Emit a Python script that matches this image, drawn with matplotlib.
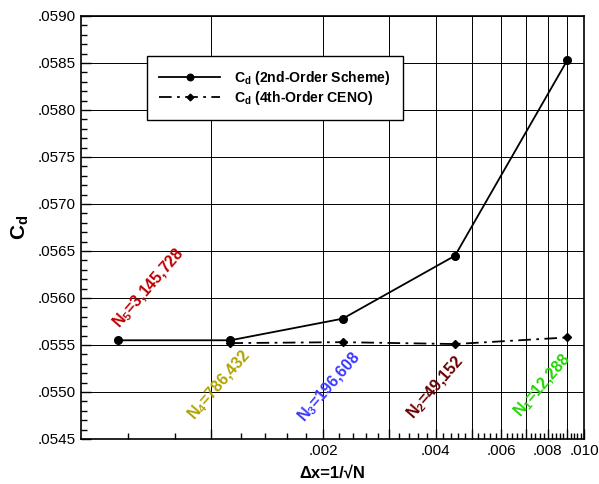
import matplotlib
matplotlib.use("Agg")
import matplotlib.pyplot as plt
from matplotlib.ticker import FixedLocator, FuncFormatter
import numpy as np

plt.rcParams['font.family'] = ['Liberation Sans', 'DejaVu Sans']
plt.rcParams['mathtext.fontset'] = 'custom'
plt.rcParams['mathtext.rm'] = 'Liberation Sans'
plt.rcParams['mathtext.it'] = 'Liberation Sans:italic'
plt.rcParams['mathtext.bf'] = 'Liberation Sans:bold'

# Data
grid_sizes = [3145728, 786432, 196608, 49152, 12288]
grid_names = ["N$_\\mathbf{5}$=3,145,728", "N$_\\mathbf{4}$=786,432", "N$_\\mathbf{3}$=196,608",
              "N$_\\mathbf{2}$=49,152", "N$_\\mathbf{1}$=12,288"]
label_colors = ["#c00000", "#b0a400", "#3a3aff", "#6a0000", "#22d800"]
label_x = [0.000682, 0.001057, 0.002085, 0.00399, 0.00777]
label_y = [0.05610, 0.055074, 0.055053, 0.055043, 0.055074]

cd_2nd = [0.05555, 0.05555, 0.05578, 0.05645, 0.05853]
cd_4th = [0.05552, 0.05553, 0.05551, 0.05558]   # N4..N1

dx = [1.0 / np.sqrt(n) for n in grid_sizes]

fig = plt.figure(figsize=(5.99, 4.84), dpi=100)
ax = fig.add_axes([0.135, 0.093, 0.84, 0.874])

ax.set_xscale('log')
ax.set_xlim(0.000448, 0.0100)
ax.set_ylim(0.0545, 0.0590)

ax.plot(dx, cd_2nd, color='black', lw=1.3, marker='o', ms=5.5,
        label='C$_\\mathbf{d}$ (2nd-Order Scheme)', zorder=5)
ax.plot(dx[1:], cd_4th, color='black', lw=1.3, ls=(0, (7, 3, 1.5, 3)), marker='D', ms=4,
        label='C$_\\mathbf{d}$ (4th-Order CENO)', zorder=4)

for name, c, x, y in zip(grid_names, label_colors, label_x, label_y):
    ax.text(x, y, name, color=c, fontsize=11.5, fontweight='bold', rotation=49,
            ha='center', va='center', rotation_mode='anchor', zorder=6)

# ticks
xmaj = [0.001 * k for k in range(1, 11)]
xmin = [0.0002 * k for k in range(3, 50) if k % 5 != 0]
ax.xaxis.set_major_locator(FixedLocator(xmaj))
ax.xaxis.set_minor_locator(FixedLocator(xmin))

def xfmt(v, pos):
    k = int(round(v / 0.001))
    if k % 2 == 0:
        return ("%.3f" % v)[1:]
    return ""
ax.xaxis.set_major_formatter(FuncFormatter(xfmt))
ax.xaxis.set_minor_formatter(FuncFormatter(lambda v, p: ""))

ymaj = [0.0545 + 0.0005 * k for k in range(10)]
ymin = [0.0545 + 0.0001 * k for k in range(46)]
ax.yaxis.set_major_locator(FixedLocator(ymaj))
ax.yaxis.set_minor_locator(FixedLocator(ymin))
ax.yaxis.set_major_formatter(FuncFormatter(lambda v, p: ("%.4f" % v)[1:]))

ax.tick_params(which='both', direction='in', top=False, right=False, labelsize=11, width=1)
ax.tick_params(which='major', length=7)
ax.tick_params(which='minor', length=4)

ax.grid(True, which='major', color='black', lw=0.7)
for s in ax.spines.values():
    s.set_linewidth(1.2)

ax.set_xlabel('\u0394x=1/\u221aN', fontsize=12, fontweight='bold', labelpad=6)
ax.set_ylabel('C$_\\mathbf{d}$', fontsize=15, fontweight='bold', labelpad=5)

leg = ax.legend(loc='upper left', bbox_to_anchor=(0.131, 0.905), borderaxespad=0,
                frameon=True, fancybox=False,
                edgecolor='black', framealpha=1, prop={'weight': 'bold', 'size': 10.1},
                handlelength=4.3, handletextpad=1.0, borderpad=0.9, labelspacing=0.15,
                markerscale=0.85)
leg.get_frame().set_linewidth(1.0)

fig.savefig('out.png', dpi=100)
